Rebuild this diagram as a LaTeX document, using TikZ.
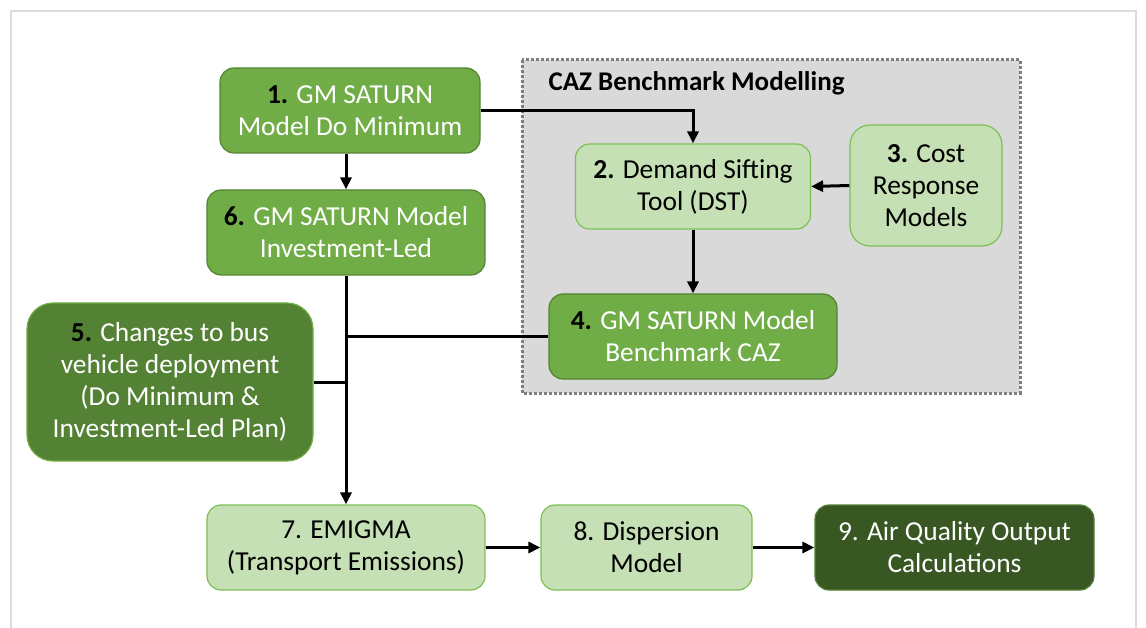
\documentclass[tikz,border=0pt]{standalone}
\usepackage{fontspec}
\setmainfont{Carlito}
\usetikzlibrary{arrows.meta}
\definecolor{midgreen}{HTML}{70AD47}
\definecolor{midedge}{HTML}{548235}
\definecolor{lightgreen}{HTML}{C5E0B4}
\definecolor{lightedge}{HTML}{7DBF55}
\definecolor{darkgreen}{HTML}{548235}
\definecolor{deepgreen}{HTML}{385723}
\definecolor{cazfill}{HTML}{D9D9D9}
\definecolor{cazedge}{HTML}{7F7F7F}
\definecolor{framegrey}{HTML}{DCDCDC}
\newcommand{\boxno}[1]{\textcolor{black}{\bfseries #1}}

\begin{document}
\begin{tikzpicture}[x=1pt,y=-1pt,
    box/.style={rounded corners=14pt, line width=1.2pt, align=center, inner sep=0pt,
      font=\fontsize{27.4}{32}\selectfont},
    midbox/.style={box, fill=midgreen, draw=midedge, text=white},
    lightbox/.style={box, fill=lightgreen, draw=lightedge, text=black},
    busbox/.style={box, rounded corners=26pt, fill=darkgreen, draw=midgreen, text=white},
    outbox/.style={box, fill=deepgreen, draw=midedge, text=white},
    cazbox/.style={fill=cazfill, draw=cazedge, line width=3pt, dash pattern=on 3pt off 2pt},
    link/.style={line width=3pt},
    arrow/.style={link, -{Triangle[length=12pt,width=11pt]}}]
    \useasboundingbox (0,0) rectangle (1146,628);
    \draw[framegrey, line width=1.5pt] (11,628) -- (11,11) -- (1136,11) -- (1136,628);
    \draw[cazbox] (522,60) rectangle (1020,393);
    \node[anchor=west, font=\fontsize{27}{30}\selectfont\bfseries] (caztitle) at (545,83) {CAZ Benchmark Modelling};

    \node[midbox, minimum width=260, minimum height=85] (gmdm) at (350,110.5) {\boxno{1.} GM SATURN\\Model Do Minimum};
    \node[midbox, minimum width=278, minimum height=85] (gmil) at (346,232.5) {\boxno{6.} GM SATURN Model\\Investment-Led};
    \node[lightbox, minimum width=235, minimum height=85] (dst) at (693,186.5) {\boxno{2.} Demand Sifting\\Tool (DST)};
    \node[lightbox, rounded corners=20pt, minimum width=152, minimum height=121] (cost) at (926,185.5) {\boxno{3.} Cost\\Response\\Models};
    \node[midbox, minimum width=288, minimum height=85] (bench) at (693,336.5) {\boxno{4.} GM SATURN Model\\Benchmark CAZ};
    \node[busbox, minimum width=286, minimum height=158] (bus) at (170,382) {\boxno{5.} Changes to bus\\vehicle deployment\\(Do Minimum \&\\Investment-Led Plan)};
    \node[lightbox, minimum width=278, minimum height=85] (emigma) at (346,547.5) {7. EMIGMA\\(Transport Emissions)};
    \node[lightbox, minimum width=211, minimum height=85] (disp) at (646.5,547.5) {8. Dispersion\\Model};
    \node[outbox, minimum width=279, minimum height=85] (aq) at (954.5,547.5) {9. Air Quality Output\\Calculations};

    \draw[arrow] (gmdm.east) -| (dst.north);
    \draw[arrow] (gmdm.south -| gmil.north) -- (gmil.north);
    \draw[arrow] (dst.south) -- (bench.north);
    \draw[arrow] (cost.west) -- (dst.east);
    \draw[arrow] (gmil.south) -- (emigma.north);
    \draw[link] (bench.west) -- (bench.west -| gmil.south);
    \draw[link] (bus.east) -- (bus.east -| gmil.south);
    \draw[arrow] (emigma.east) -- (disp.west);
    \draw[arrow] (disp.east) -- (aq.west);
\end{tikzpicture}
\end{document}
